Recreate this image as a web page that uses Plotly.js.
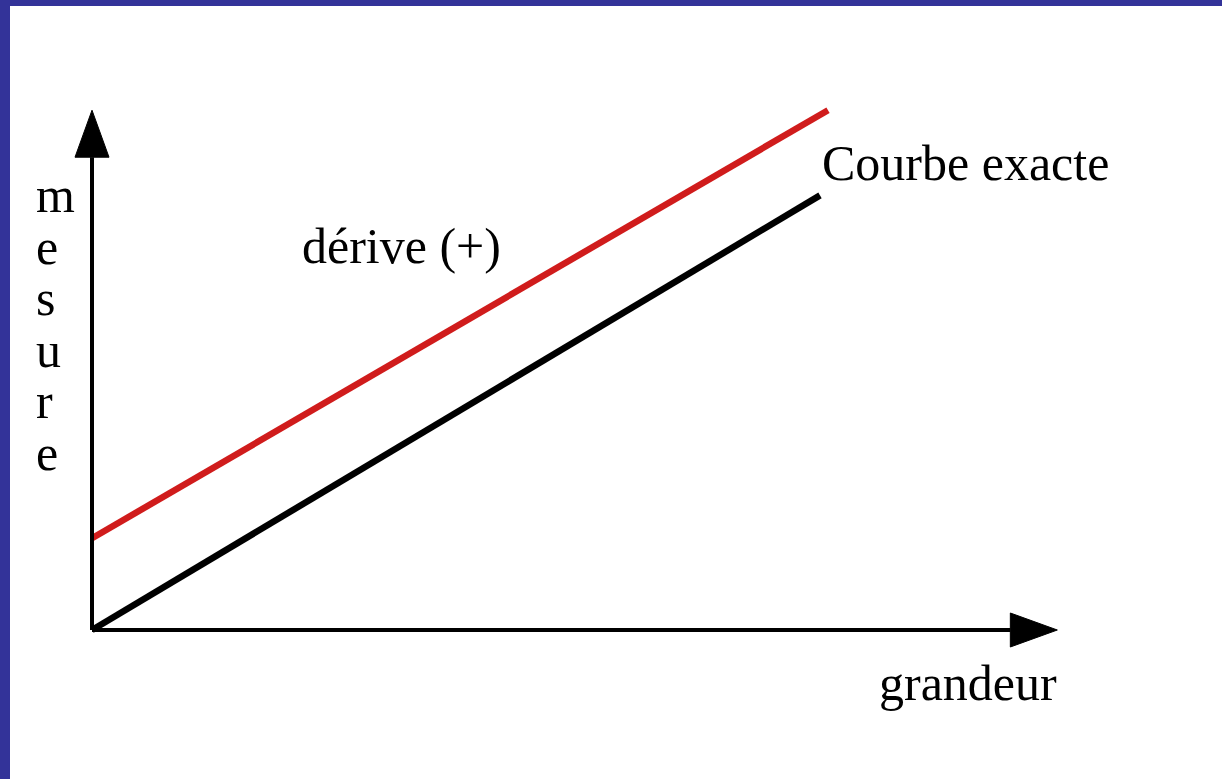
<!DOCTYPE html>
<html>
<head>
<meta charset="utf-8">
<script src="https://cdn.plot.ly/plotly-3.0.1.min.js"></script>
<style>
  html, body { margin: 0; padding: 0; background: #333399; width: 1222px; height: 779px; overflow: hidden; }
  #chart { position: absolute; left: 10px; top: 6px; width: 1212px; height: 773px; background: #ffffff; }
</style>
</head>
<body>
<div id="chart"></div>
<script>
// Data (abstract units: grandeur on x, mesure on y)
const exactX = [0, 10];
const exactY = [0, 5.97];
const deriveX = [0, 10.11];
const deriveY = [1.26, 7.14];

// Labels
const exactLabel = "Courbe exacte";
const deriveLabel = "dérive (+)";
const xLabel = "grandeur";
const yLetters = ["m", "e", "s", "u", "r", "e"];

// Axis extents (arrow tips)
const xTip = 13.26;
const yTip = 7.14;

const W = 1212, H = 773;
const scale = 72.8;           // px per unit
const ox = 82, oy = 624;      // origin in px within the div

const xr = [-ox / scale, (W - ox) / scale];
const yr = [(oy - H) / scale, oy / scale];

const font = { family: "Liberation Serif, Times New Roman, serif", size: 50, color: "#000" };

const traces = [
  { x: exactX, y: exactY, mode: "lines", line: { color: "#000000", width: 6.5 }, hoverinfo: "skip", showlegend: false },
  { x: deriveX, y: deriveY, mode: "lines", line: { color: "#d01c1c", width: 6.5 }, hoverinfo: "skip", showlegend: false }
];

const ah = 47 / scale, aw = 17 / scale;
const shapes = [
  { type: "line", xref: "x", yref: "y", x0: 0, y0: 0, x1: xTip - ah, y1: 0, line: { color: "#000", width: 4 } },
  { type: "line", xref: "x", yref: "y", x0: 0, y0: 0, x1: 0, y1: yTip - ah, line: { color: "#000", width: 4 } },
  { type: "path", xref: "x", yref: "y", fillcolor: "#000", line: { color: "#000", width: 1 },
    path: `M ${xTip},0 L ${xTip - ah},${aw} L ${xTip - ah},${-aw} Z` },
  { type: "path", xref: "x", yref: "y", fillcolor: "#000", line: { color: "#000", width: 1 },
    path: `M 0,${yTip} L ${aw},${yTip - ah} L ${-aw},${yTip - ah} Z` }
];

const px2x = p => (p - 10 - ox) / scale;
const px2y = p => (oy - (p - 6)) / scale;

const annotations = [
  { x: px2x(820), y: px2y(163), text: exactLabel, xanchor: "left", yanchor: "middle", showarrow: false, font: font },
  { x: px2x(300), y: px2y(246), text: deriveLabel, xanchor: "left", yanchor: "middle", showarrow: false, font: font },
  { x: px2x(877), y: px2y(683), text: xLabel, xanchor: "left", yanchor: "middle", showarrow: false, font: font }
];
const letterTop = 195, letterStep = 51.6;
yLetters.forEach((c, i) => {
  annotations.push({ x: px2x(34), y: px2y(letterTop + i * letterStep), text: c, xanchor: "left", yanchor: "middle", showarrow: false, font: font });
});

const layout = {
  width: W, height: H,
  margin: { l: 0, r: 0, t: 0, b: 0 },
  paper_bgcolor: "#ffffff", plot_bgcolor: "#ffffff",
  xaxis: { range: xr, visible: false, fixedrange: true },
  yaxis: { range: yr, visible: false, fixedrange: true },
  shapes: shapes,
  annotations: annotations,
  showlegend: false
};

Plotly.newPlot("chart", traces, layout, { displayModeBar: false, staticPlot: true });
</script>
</body>
</html>
